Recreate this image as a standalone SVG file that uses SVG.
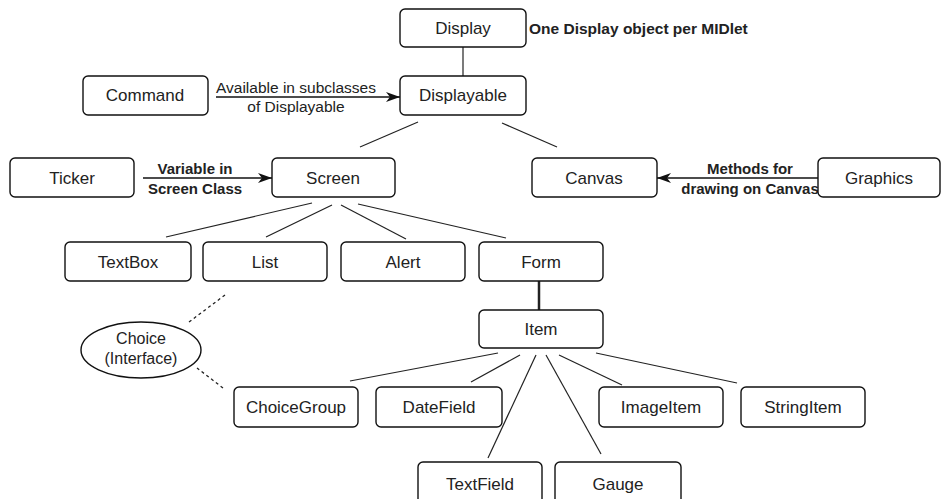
<svg xmlns="http://www.w3.org/2000/svg" width="942" height="499" viewBox="0 0 942 499">
<style>
.box{fill:#fff;stroke:#111;stroke-width:1.4}
.t{font-family:"Liberation Sans",Arial,sans-serif;font-size:17px;fill:#222;text-anchor:middle}
.lb{font-family:"Liberation Sans",Arial,sans-serif;font-size:15px;font-weight:bold;fill:#222;text-anchor:middle}
.lr{font-family:"Liberation Sans",Arial,sans-serif;font-size:15.5px;fill:#222;text-anchor:middle}
.ln{stroke:#222;stroke-width:1.2;fill:none}
.dot{stroke:#222;stroke-width:1.3;fill:none;stroke-dasharray:3 3}
.arr{stroke:#111;stroke-width:1.6;fill:none;marker-end:url(#ah)}
</style>
<defs>
<marker id="ah" viewBox="0 0 14 10" refX="14" refY="5" markerWidth="14" markerHeight="10" markerUnits="userSpaceOnUse" orient="auto">
<path d="M0,0 L14,5 L0,10 L4,5 Z" fill="#111"/>
</marker>
</defs>
<rect width="942" height="499" fill="#fff"/>
<g id="connectors">
<line class="ln" x1="463" y1="47" x2="463" y2="76"/>
<line class="arr" x1="216" y1="97" x2="400" y2="97"/>
<line class="arr" x1="143" y1="178" x2="272" y2="178"/>
<line class="arr" x1="818" y1="178" x2="657" y2="178"/>
<line class="ln" x1="418" y1="122" x2="360" y2="147"/>
<line class="ln" x1="502" y1="123" x2="557" y2="147"/>
<line class="ln" x1="312" y1="203" x2="166" y2="237"/>
<line class="ln" x1="332" y1="205" x2="266" y2="237"/>
<line class="ln" x1="341" y1="205" x2="406" y2="239"/>
<line class="ln" x1="358" y1="204" x2="506" y2="238"/>
<line class="ln" x1="539" y1="281" x2="539" y2="310" style="stroke-width:2.5"/>
<line class="dot" x1="225" y1="295" x2="189" y2="322"/>
<line class="dot" x1="223" y1="388" x2="197" y2="368"/>
<line class="ln" x1="498" y1="353" x2="350" y2="381"/>
<line class="ln" x1="520" y1="355" x2="471" y2="382"/>
<line class="ln" x1="536" y1="355" x2="488" y2="458"/>
<line class="ln" x1="546" y1="355" x2="601" y2="454"/>
<line class="ln" x1="559" y1="355" x2="622" y2="385"/>
<line class="ln" x1="596" y1="353" x2="737" y2="383"/>
<text class="lr" x="296" y="93">Available in subclasses</text>
<text class="lr" x="296" y="112">of Displayable</text>
<text class="lb" x="195" y="174">Variable in</text>
<text class="lb" x="195" y="194">Screen Class</text>
<text class="lb" x="750" y="174">Methods for</text>
<text class="lb" x="750" y="194">drawing on Canvas</text>
</g>
<g id="display"><rect class="box" x="400" y="9" width="126" height="38" rx="5"/><text class="t" x="463" y="34">Display</text></g>
<g id="note"><text class="lb" x="529" y="34" style="text-anchor:start;font-size:15.5px">One Display object per MIDlet</text></g>
<g id="command"><rect class="box" x="83" y="76" width="125" height="39" rx="5"/><text class="t" x="145" y="101">Command</text></g>
<g id="displayable"><rect class="box" x="400" y="76" width="126" height="39" rx="5"/><text class="t" x="463" y="101">Displayable</text></g>
<g id="ticker"><rect class="box" x="10" y="158" width="124" height="39" rx="5"/><text class="t" x="72" y="184">Ticker</text></g>
<g id="screen"><rect class="box" x="272" y="158" width="123" height="39" rx="5"/><text class="t" x="333" y="184">Screen</text></g>
<g id="canvas"><rect class="box" x="532" y="158" width="125" height="39" rx="5"/><text class="t" x="594" y="184">Canvas</text></g>
<g id="graphics"><rect class="box" x="818" y="158" width="122" height="39" rx="5"/><text class="t" x="879" y="184">Graphics</text></g>
<g id="textbox"><rect class="box" x="65" y="242" width="126" height="39" rx="5"/><text class="t" x="128" y="268">TextBox</text></g>
<g id="list"><rect class="box" x="203" y="242" width="124" height="39" rx="5"/><text class="t" x="265" y="268">List</text></g>
<g id="alert"><rect class="box" x="341" y="242" width="124" height="39" rx="5"/><text class="t" x="403" y="268">Alert</text></g>
<g id="form"><rect class="box" x="479" y="242" width="124" height="39" rx="5"/><text class="t" x="541" y="268">Form</text></g>
<g id="item"><rect class="box" x="479" y="310" width="124" height="38" rx="5"/><text class="t" x="541" y="335">Item</text></g>
<g id="choice"><ellipse class="box" cx="141" cy="350" rx="60" ry="28"/><text class="t" x="141" y="344" style="font-size:16px">Choice</text><text class="t" x="141" y="364" style="font-size:16px">(Interface)</text></g>
<g id="choicegroup"><rect class="box" x="234" y="387" width="124" height="40" rx="5"/><text class="t" x="296" y="413">ChoiceGroup</text></g>
<g id="datefield"><rect class="box" x="376" y="387" width="126" height="40" rx="5"/><text class="t" x="439" y="413">DateField</text></g>
<g id="imageitem"><rect class="box" x="599" y="387" width="124" height="40" rx="5"/><text class="t" x="661" y="413">ImageItem</text></g>
<g id="stringitem"><rect class="box" x="741" y="387" width="124" height="40" rx="5"/><text class="t" x="803" y="413">StringItem</text></g>
<g id="textfield"><rect class="box" x="418" y="462" width="124" height="42" rx="5"/><text class="t" x="480" y="490">TextField</text></g>
<g id="gauge"><rect class="box" x="555" y="462" width="126" height="42" rx="5"/><text class="t" x="618" y="490">Gauge</text></g>
</svg>
